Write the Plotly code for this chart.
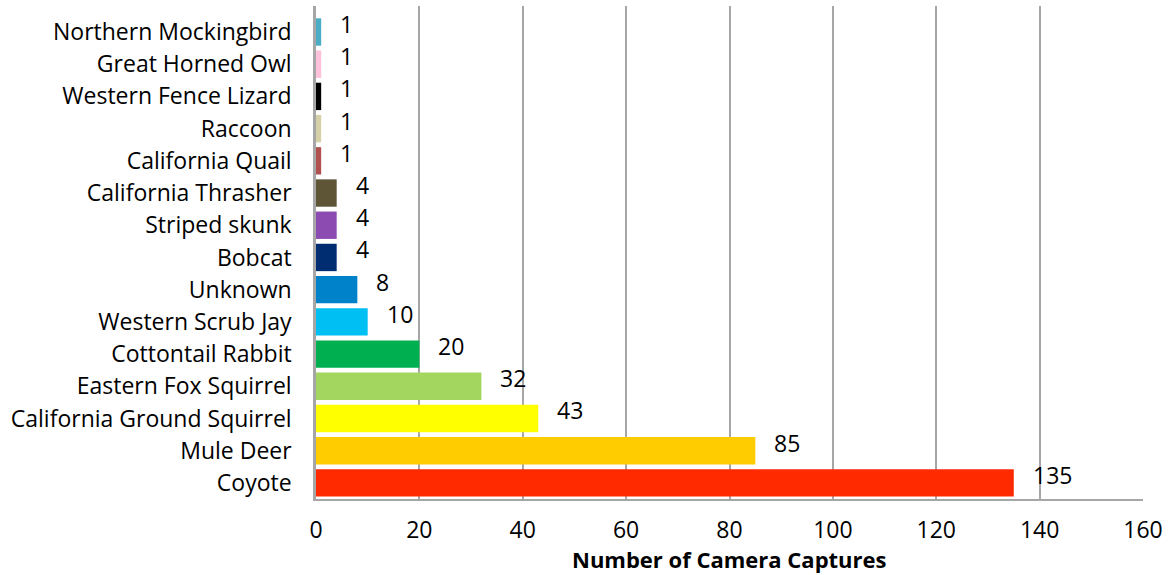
import plotly.graph_objects as go

species = ["Coyote", "Mule Deer", "California Ground Squirrel", "Eastern Fox Squirrel",
           "Cottontail Rabbit", "Western Scrub Jay", "Unknown", "Bobcat", "Striped skunk",
           "California Thrasher", "California Quail", "Raccoon", "Western Fence Lizard",
           "Great Horned Owl", "Northern Mockingbird"]
captures = [135, 85, 43, 32, 20, 10, 8, 4, 4, 4, 1, 1, 1, 1, 1]
colors = ["#FF2A00", "#FFCC00", "#FFFF00", "#A3D65F", "#00B050", "#00BFF3", "#0082CA",
          "#002D72", "#8B4BB0", "#5E5536", "#B0514F", "#D6D0A8", "#000000", "#FFC0DB", "#4BACC6"]
x_ticks = [0, 20, 40, 60, 80, 100, 120, 140, 160]

FONT = "'Open Sans', sans-serif"

fig = go.Figure(go.Bar(
    y=species, x=captures, orientation="h",
    marker=dict(color=colors, line=dict(width=0)),
    hoverinfo="x+y",
))

for s, v in zip(species, captures):
    fig.add_annotation(x=v, y=s, text=str(v), showarrow=False, xanchor="left",
                       xshift=17, yshift=8, font=dict(family=FONT, size=23, color="black"))

fig.add_annotation(x=0.5, xref="paper", y=0, yref="paper", yshift=-43, yanchor="top",
                   text="<b>Number of Camera Captures</b>", showarrow=False,
                   font=dict(family=FONT, size=22, color="black"))

fig.update_layout(
    width=1175, height=575,
    margin=dict(l=316, r=32, t=6, b=76),
    plot_bgcolor="white", paper_bgcolor="white",
    bargap=0.15, showlegend=False,
    font=dict(family=FONT, size=23, color="black"),
    xaxis=dict(range=[0, 160], tickvals=x_ticks, showgrid=True, gridcolor="#A6A6A6",
               gridwidth=1.5, showline=True, linecolor="#A6A6A6", linewidth=2,
               zeroline=False, ticks="", ticklabelstandoff=9,
               tickfont=dict(family=FONT, size=23)),
    yaxis=dict(categoryorder="array", categoryarray=species, showline=True,
               linecolor="#A6A6A6", linewidth=2.5, showgrid=False, ticks="",
               ticklabelstandoff=17, tickfont=dict(family=FONT, size=23)),
)

fig.write_html("out.html")
